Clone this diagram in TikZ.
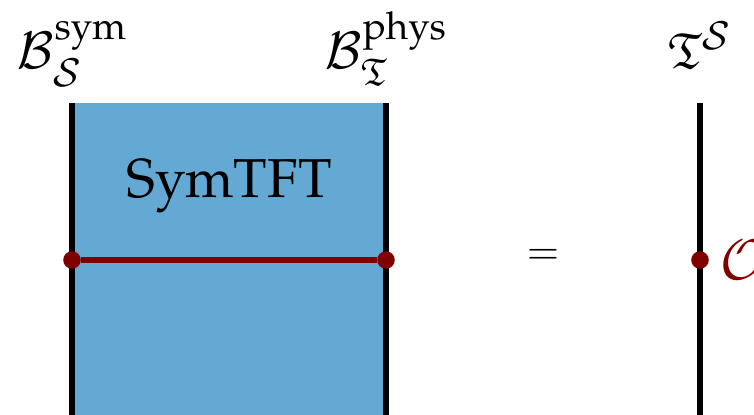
\documentclass[tikz,border=0pt]{standalone}
\usepackage[T1]{fontenc}
\usepackage{mathpazo}
\usepackage{amsmath}
\usepackage{amssymb}
\usetikzlibrary{positioning}

\definecolor{bulkblue}{RGB}{100,169,212}
\definecolor{opred}{RGB}{128,0,0}

\begin{document}
\begin{tikzpicture}[
    % Define standard styles for the diagram components
    x=0.025cm, y=-0.025cm,
    boundary/.style={
        line width=3.6pt,
        draw=black
    },
    bulk/.style={
        fill=bulkblue
    },
    opline/.style={
        line width=3.6pt,
        draw=opred
    },
    opdot/.style={
        circle,
        fill=opred,
        inner sep=0pt,
        minimum size=12.5pt
    },
    bdylabel/.style={
        anchor=base,
        inner sep=0pt,
        font=\fontsize{36}{43}\selectfont
    },
    bigtext/.style={
        inner sep=0pt,
        font=\fontsize{39}{47}\selectfont
    }
]

\clip (0,0) rectangle (754,414);

% --- Boundaries ---
\coordinate (symtop) at (72,103);
\coordinate (symbot) at (72,420);
\coordinate (phystop) at (386,103);
\coordinate (physbot) at (386,420);
\coordinate (thtop) at (700,103);
\coordinate (thbot) at (700,420);

% SymTFT slab
\fill[bulk] (symtop) rectangle (physbot);
\draw[boundary] (symtop) -- (symbot);
\draw[boundary] (phystop) -- (physbot);
\draw[boundary] (thtop) -- (thbot);

% --- Nodes ---
\node[bdylabel] (symlabel) at (72,68) {$\mathcal{B}^{\mathrm{sym}}_{\mathcal{S}}$};
\node[bdylabel] (physlabel) at (386,68) {$\mathcal{B}^{\mathrm{phys}}_{\mathfrak{T}}$};
\node[bdylabel] (thlabel) at (700,68) {$\mathfrak{T}^{\mathcal{S}}$};

\node[bigtext, anchor=base] (symtft) at (229,197) {SymTFT};
\node[inner sep=0pt, font=\fontsize{28}{34}\selectfont] (equals) at (543,257) {$=$};

% Operator endpoints
\node[opdot] (symend) at (72,260) {};
\node[opdot] (physend) at (386,260) {};
\node[opdot] (thend) at (700,260) {};
\node[bigtext, right=0.25cm of thend, text=opred] (oplabel) {$\mathcal{O}$};

% --- Connections ---
\draw[opline] (symend) -- (physend);

\end{tikzpicture}
\end{document}
